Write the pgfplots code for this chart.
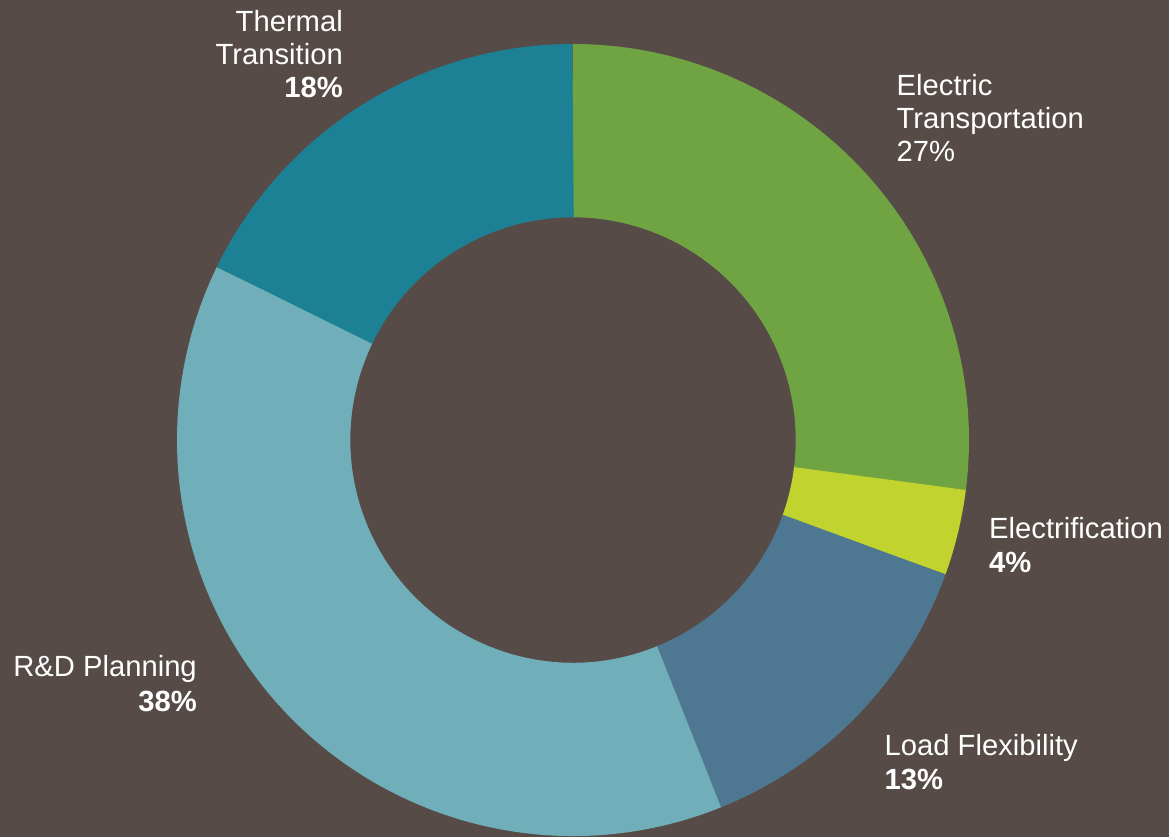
\documentclass[border=0pt]{standalone}
\usepackage{pgfplots}
\usepackage{pgfplotstable}
\usepackage{fontspec}
\setmainfont{Liberation Sans}
\pgfplotsset{compat=1.18}

\definecolor{bg}{HTML}{564B47}
\definecolor{cET}{HTML}{70A342}
\definecolor{cEL}{HTML}{C1D32F}
\definecolor{cLF}{HTML}{4E7891}
\definecolor{cRD}{HTML}{70AFBA}
\definecolor{cTT}{HTML}{1D8196}

\tikzset{lbl/.style={text=white, inner sep=0pt, font=\fontsize{29.2}{33}\selectfont}}

% shares in percent, clockwise from 12 o'clock
\pgfplotstableread{
value color
27.03 cET
3.50  cEL
13.39 cLF
38.29 cRD
17.79 cTT
}\donutdata

\begin{document}
\begin{tikzpicture}
\begin{axis}[
  name=ax,
  x=1pt, y=1pt,
  xmin=0, xmax=1169, ymin=0, ymax=837,
  hide axis, clip=false,
  scale only axis,
]
\fill[bg] (rel axis cs:0,0) rectangle (rel axis cs:1,1);
\pgfplotsextra{
  \coordinate (c) at (axis cs:573,397);
  \gdef\angstart{90}
  \pgfplotstablegetrowsof{\donutdata}
  \pgfmathtruncatemacro\lastrow{\pgfplotsretval-1}
  \foreach \i in {0,...,\lastrow}{
    \pgfplotstablegetelem{\i}{value}\of\donutdata
    \pgfmathsetmacro\angend{\angstart-3.6*\pgfplotsretval}
    \pgfmathsetmacro\angfrom{\angstart+0.15}
    \pgfplotstablegetelem{\i}{color}\of\donutdata
    \let\slicecol\pgfplotsretval
    \draw[line width=173.3pt, color=\slicecol] (c) ++(\angfrom:309.35pt)
      arc[start angle=\angfrom, end angle=\angend, radius=309.35pt];
    \xdef\angstart{\angend}
  }
}

% labels
\node[lbl, anchor=base east] at (axis cs:343,805.3) {Thermal};
\node[lbl, anchor=base east] at (axis cs:343,772.3) {Transition};
\node[lbl, anchor=base east] at (axis cs:343,739.3) {\bfseries 18\%};

\node[lbl, anchor=base west] at (axis cs:896.5,741.3) {Electric};
\node[lbl, anchor=base west] at (axis cs:896.5,708.3) {Transportation};
\node[lbl, anchor=base west] at (axis cs:896.5,675.3) {27\%};

\node[lbl, anchor=base west] at (axis cs:989,298) {Electrification};
\node[lbl, anchor=base west] at (axis cs:989,264) {\bfseries 4\%};

\node[lbl, anchor=base west] at (axis cs:884.5,81) {Load Flexibility};
\node[lbl, anchor=base west] at (axis cs:884.5,47) {\bfseries 13\%};

\node[lbl, anchor=base east] at (axis cs:197,160.3) {R\&D Planning};
\node[lbl, anchor=base east] at (axis cs:197,125.3) {\bfseries 38\%};
\end{axis}
\pgfresetboundingbox
\path[use as bounding box] (ax.south west) rectangle (ax.north east);
\end{tikzpicture}
\end{document}
